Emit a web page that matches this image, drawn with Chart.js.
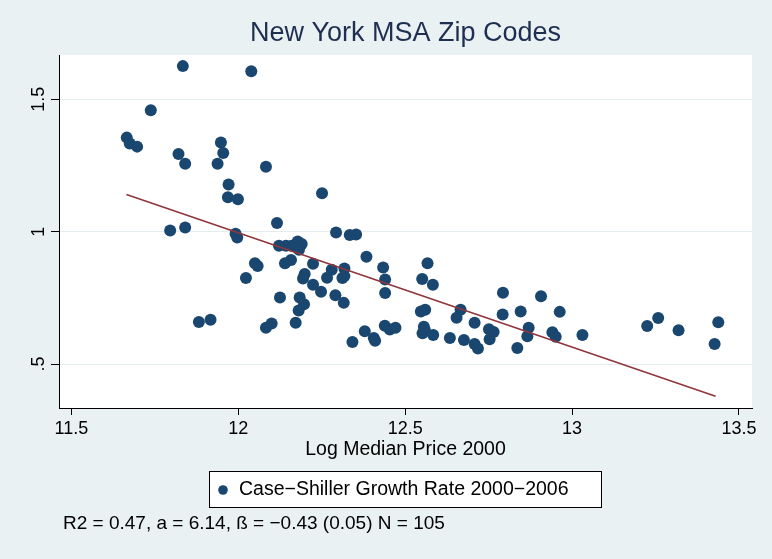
<!DOCTYPE html>
<html>
<head>
<meta charset="utf-8">
<script src="https://cdn.jsdelivr.net/npm/chart.js@4"></script>
<style>
html, body { margin: 0; padding: 0; background: #eaf1f3; }
</style>
</head>
<body>
<canvas id="c" width="772" height="559"></canvas>
<script>
// log median price 2000 (x) / Case-Shiller growth 2000-2006 (y)
const logPrice = [
  11.666, 11.675, 11.697, 11.738, 11.834, 12.039, 11.821, 11.841, 11.948, 11.955,
  11.938, 12.083, 11.971, 11.969, 11.999, 12.251, 11.796, 11.841, 11.992, 11.997,
  12.116, 12.293, 12.334, 12.353, 12.122, 12.143, 12.160, 12.178, 12.190, 12.182,
  12.169, 12.050, 12.058, 12.140, 12.158, 12.224, 12.384, 12.434, 12.440, 12.440,
  12.280, 12.318, 12.199, 12.194, 12.266, 12.312, 12.318, 12.023, 12.224, 12.248,
  12.291, 12.316, 12.125, 12.184, 12.197, 12.181, 11.882, 11.917, 12.083, 12.100,
  12.172, 12.342, 12.379, 12.406, 12.410, 12.439, 12.454, 12.471, 12.567, 12.551,
  12.583, 12.547, 12.560, 12.556, 12.552, 12.559, 12.584, 12.634, 12.676, 12.708,
  12.718, 12.666, 12.654, 12.708, 12.751, 12.765, 12.753, 12.793, 12.792, 12.846,
  12.907, 12.963, 12.870, 12.866, 12.836, 12.941, 12.951, 13.031, 13.225, 13.258,
  13.319, 13.438, 13.427
];
const growth = [
  1.355, 1.333, 1.321, 1.458, 1.625, 1.606, 1.293, 1.256, 1.337, 1.297,
  1.256, 1.245, 1.178, 1.130, 1.122, 1.145, 1.004, 1.016, 0.992, 0.978,
  1.033, 0.997, 0.987, 0.989, 0.947, 0.947, 0.947, 0.963, 0.953, 0.932,
  0.944, 0.881, 0.870, 0.881, 0.893, 0.879, 0.905, 0.865, 0.819, 0.768,
  0.856, 0.861, 0.840, 0.823, 0.826, 0.825, 0.832, 0.825, 0.799, 0.773,
  0.760, 0.731, 0.751, 0.751, 0.726, 0.702, 0.659, 0.667, 0.637, 0.653,
  0.656, 0.583, 0.624, 0.598, 0.588, 0.645, 0.630, 0.637, 0.881, 0.821,
  0.799, 0.698, 0.705, 0.641, 0.616, 0.629, 0.610, 0.598, 0.591, 0.576,
  0.559, 0.705, 0.675, 0.656, 0.631, 0.621, 0.594, 0.769, 0.687, 0.698,
  0.756, 0.697, 0.637, 0.605, 0.561, 0.620, 0.603, 0.610, 0.644, 0.674,
  0.628, 0.658, 0.576
];
// fitted line end points
const fitX = [11.665, 13.43];
const fitY = [1.14, 0.378];

const xTicks = [11.5, 12, 12.5, 13, 13.5];
const yTicks = [0.5, 1, 1.5];
const yTickLabels = ['.5', '1', '1.5'];

const FONT = '"Liberation Sans", Arial, sans-serif';

// background, rotated y labels, titles, legend box and note
const stataLook = {
  id: 'stataLook',
  beforeDraw(chart) {
    const { ctx, chartArea: a } = chart;
    ctx.save();
    ctx.fillStyle = '#eaf1f3';
    ctx.fillRect(0, 0, chart.width, chart.height);
    ctx.fillStyle = '#ffffff';
    ctx.fillRect(a.left, a.top, a.right - a.left, a.bottom - a.top);
    ctx.restore();
  },
  afterDraw(chart) {
    const { ctx, chartArea: a } = chart;
    const ys = chart.scales.y;
    const cx = (a.left + a.right) / 2;
    ctx.save();
    ctx.fillStyle = '#000';
    ctx.textAlign = 'center';
    ctx.textBaseline = 'middle';
    ctx.font = '18px ' + FONT;
    yTicks.forEach((v, i) => {
      ctx.save();
      ctx.translate(39, ys.getPixelForValue(v));
      ctx.rotate(-Math.PI / 2);
      ctx.fillText(yTickLabels[i], 0, 0);
      ctx.restore();
    });

    ctx.fillStyle = '#1e2f52';
    ctx.font = '27px ' + FONT;
    ctx.fillText('New York MSA Zip Codes', cx, 34);

    ctx.fillStyle = '#000';
    ctx.font = '19.5px ' + FONT;
    ctx.fillText('Log Median Price 2000', cx, 450);

    // legend
    ctx.fillStyle = '#fff';
    ctx.fillRect(209.5, 471.5, 392, 36);
    ctx.strokeStyle = '#000';
    ctx.lineWidth = 1;
    ctx.strokeRect(209.5, 471.5, 392, 36);
    ctx.fillStyle = '#1a476f';
    ctx.beginPath();
    ctx.arc(223, 490, 4.8, 0, Math.PI * 2);
    ctx.fill();
    ctx.fillStyle = '#000';
    ctx.textAlign = 'left';
    ctx.fillText('Case\u2212Shiller Growth Rate 2000\u22122006', 239, 490);

    ctx.font = '19px ' + FONT;
    ctx.fillText('R2 = 0.47, a = 6.14, \u00df = \u22120.43 (0.05) N = 105', 63, 524);
    ctx.restore();
  }
};

new Chart(document.getElementById('c'), {
  type: 'scatter',
  data: {
    datasets: [
      {
        type: 'line',
        label: 'Fitted values',
        data: fitX.map((x, i) => ({ x: x, y: fitY[i] })),
        borderColor: '#90353b',
        borderWidth: 1.6,
        pointRadius: 0,
        fill: false
      },
      {
        label: 'Case\u2212Shiller Growth Rate 2000\u22122006',
        data: logPrice.map((x, i) => ({ x: x, y: growth[i] })),
        backgroundColor: '#1a476f',
        borderWidth: 0,
        pointRadius: 6
      }
    ]
  },
  options: {
    responsive: false,
    animation: false,
    layout: { padding: { top: 55, right: 20, bottom: 0, left: 0 } },
    plugins: { legend: { display: false }, title: { display: false }, tooltip: { enabled: false } },
    scales: {
      x: {
        type: 'linear',
        min: 11.463,
        max: 13.539,
        afterBuildTicks: s => { s.ticks = xTicks.map(v => ({ value: v })); },
        afterFit: s => { s.height = 151; },
        grid: { drawOnChartArea: false, drawTicks: true, tickLength: 7, tickColor: '#000' },
        border: { display: true, color: '#000', width: 1 },
        ticks: { color: '#000', padding: 3, font: { size: 18, family: FONT }, maxRotation: 0,
          callback: v => String(v) }
      },
      y: {
        type: 'linear',
        min: 0.334,
        max: 1.667,
        afterBuildTicks: s => { s.ticks = yTicks.map(v => ({ value: v })); },
        afterFit: s => { s.width = 59; },
        grid: { color: '#e4ecef', lineWidth: 1, drawTicks: true, tickLength: 8, tickColor: '#000' },
        border: { display: true, color: '#000', width: 1 },
        ticks: { display: false }
      }
    }
  },
  plugins: [stataLook]
});
</script>
</body>
</html>
